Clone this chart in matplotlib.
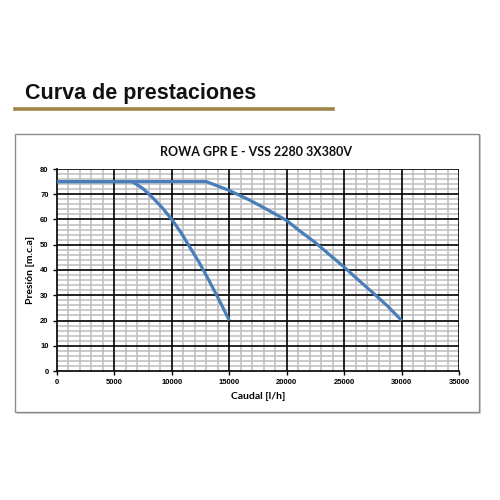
import matplotlib
matplotlib.use("Agg")
import matplotlib.pyplot as plt
from matplotlib.patches import Rectangle
from matplotlib.lines import Line2D

# Data
curve1_x = [0, 6550, 7470, 8340, 9210, 10000, 10810, 11530, 12400, 13260, 14130, 15000]
curve1_y = [75, 75, 72.3, 68.6, 64.4, 60.0, 54.7, 49.3, 42.8, 35.6, 28.0, 20]
curve2_x = [0, 13000, 15000, 16720, 18160, 20000, 21040, 22480, 23920, 24940, 26230, 27670, 28830, 30000]
curve2_y = [75, 75, 71.5, 67.8, 64.3, 59.6, 55.8, 50.9, 45.3, 41.4, 36.1, 30.3, 25.5, 20]
x_ticks = [0, 5000, 10000, 15000, 20000, 25000, 30000, 35000]
y_ticks = [0, 10, 20, 30, 40, 50, 60, 70, 80]
x_minor_step = 1000
y_minor_step = 2

page_title = "Curva de prestaciones"
chart_title = "ROWA GPR E - VSS 2280 3X380V"
x_label = "Caudal [l/h]"
y_label = "Presión [m.c.a]"

fig = plt.figure(figsize=(5, 5), dpi=100)
fig.patch.set_facecolor("white")

# Page heading
fig.text(0.05, 0.802, page_title, fontsize=15.5, fontweight="heavy",
         family="Liberation Sans", color="#111111", ha="left", va="baseline")
fig.add_artist(Line2D([0.03, 0.666], [0.782, 0.782], transform=fig.transFigure,
                      color="#9c8648", lw=2.6))

# Chart frame (with subtle shadow)
shadow = Rectangle((0.033, 0.172), 0.928, 0.557, transform=fig.transFigure,
                   facecolor="#d0d0d0", edgecolor="none", zorder=-2)
frame = Rectangle((0.03, 0.176), 0.928, 0.556, transform=fig.transFigure,
                  facecolor="white", edgecolor="#8c8c8c", lw=1.0, zorder=-1)
fig.add_artist(shadow)
fig.add_artist(frame)

fig.text(0.512, 0.688, chart_title, fontsize=9, fontweight="bold",
         family="Lato", color="#111111", ha="center", va="baseline")

ax = fig.add_axes([0.114, 0.258, 0.804, 0.404])
ax.set_zorder(2)
ax.set_xlim(x_ticks[0], x_ticks[-1])
ax.set_ylim(y_ticks[0], y_ticks[-1])
ax.set_xticks(x_ticks)
ax.set_yticks(y_ticks)

# Grid: minor gray under major black
xm = x_ticks[0] + x_minor_step
while xm < x_ticks[-1]:
    if xm not in x_ticks:
        ax.axvline(xm, color="#bdbdbd", lw=1.1, zorder=1)
    xm += x_minor_step
ym = y_ticks[0] + y_minor_step
while ym < y_ticks[-1]:
    if ym not in y_ticks:
        ax.axhline(ym, color="#bdbdbd", lw=1.1, zorder=1)
    ym += y_minor_step
for xv in x_ticks[1:]:
    ax.axvline(xv, color="black", lw=1.2, zorder=2)
for yv in y_ticks[1:]:
    ax.axhline(yv, color="black", lw=1.2, zorder=2)

ax.plot(curve1_x, curve1_y, color="#4a7ebb", lw=2.3, zorder=5,
        solid_capstyle="butt", solid_joinstyle="round")
ax.plot(curve2_x, curve2_y, color="#4a7ebb", lw=2.3, zorder=5,
        solid_capstyle="butt", solid_joinstyle="round")

for s in ax.spines.values():
    s.set_visible(False)
ax.spines["left"].set_visible(True)
ax.spines["bottom"].set_visible(True)
ax.spines["left"].set_linewidth(1.2)
ax.spines["bottom"].set_linewidth(1.2)

ax.tick_params(which="major", length=3, width=1, labelsize=5.5, pad=3)
for lab in ax.get_xticklabels() + ax.get_yticklabels():
    lab.set_fontweight("bold")
    lab.set_family("Liberation Sans")

ax.set_xlabel(x_label, fontsize=7.5, fontweight="bold", family="Lato", labelpad=4)
ax.set_ylabel(y_label, fontsize=7.5, fontweight="bold", family="Lato", labelpad=4)

fig.savefig("out.png", dpi=100, facecolor="white")
